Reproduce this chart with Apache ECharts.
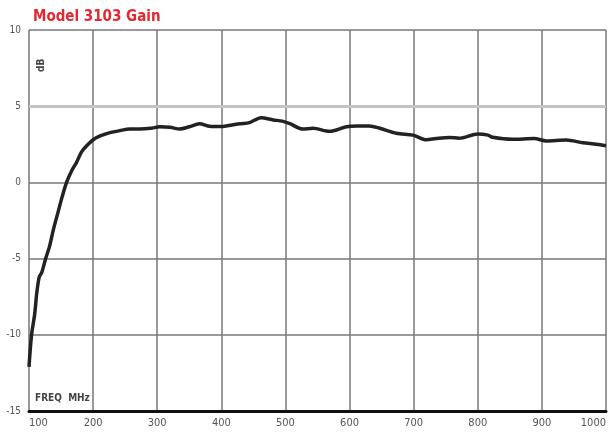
<!DOCTYPE html>
<html>
<head>
<meta charset="utf-8">
<script src="https://cdn.jsdelivr.net/npm/echarts@6/dist/echarts.min.js"></script>
<style>html,body{margin:0;padding:0;background:#fff}#c{width:611px;height:435px}</style>
</head>
<body>
<div id="c"></div>
<script>
const titleText = "Model 3103 Gain";
const xAxisName = "FREQ  MHz";
const yAxisName = "dB";
const freqMHz = [100,104,109,112,116,120,126,132,138,145,152,159,167,174,182,190,200,211,225,242,257,273,290,304,320,335,350,366,382,398,414,429,444,462,481,495,507,527,543,569,595,612,631,647,673,699,720,735,756,771,800,816,823,854,888,907,938,964,985,1000];
const gainDb = [-12.1,-10.0,-8.6,-7.3,-6.2,-5.9,-5.0,-4.2,-3.1,-2.0,-0.9,0.05,0.8,1.3,2.0,2.4,2.8,3.05,3.25,3.4,3.5,3.5,3.55,3.65,3.62,3.5,3.65,3.85,3.68,3.66,3.75,3.85,3.92,4.25,4.1,4.02,3.85,3.5,3.55,3.35,3.65,3.7,3.7,3.55,3.22,3.1,2.8,2.88,2.95,2.9,3.18,3.1,2.96,2.83,2.88,2.72,2.78,2.6,2.5,2.4];
const highlightLevel = [5];

const chart = echarts.init(document.getElementById('c'), null, {renderer:'canvas'});
const narrow = "'Liberation Sans Narrow','Arial Narrow','DejaVu Sans Condensed',sans-serif";
chart.setOption({
  animation:false,
  backgroundColor:'#fff',
  title:{text:titleText,left:28,top:5,textStyle:{color:'#e3262f',fontSize:15,fontWeight:'bold',fontFamily:narrow}},
  grid:{left:29,right:5,top:30,bottom:24,containLabel:false},
  xAxis:{type:'value',min:100,max:1000,interval:100,
    axisLine:{show:true,onZero:false,lineStyle:{color:'#111',width:3}},
    axisTick:{show:false},
    axisLabel:{color:'#555',fontSize:11,fontFamily:narrow,margin:7,alignMinLabel:'left',alignMaxLabel:'right',formatter:v=>String(v)},
    splitLine:{show:true,lineStyle:{color:'#777',width:1.5}}},
  yAxis:{type:'value',min:-15,max:10,interval:5,
    axisLine:{show:false},axisTick:{show:false},
    axisLabel:{color:'#555',fontSize:10,fontFamily:narrow,margin:8,formatter:v=>String(v)},
    splitLine:{show:true,lineStyle:{color:'#777',width:1.5}}},
  graphic:[
    {type:'text',left:35,top:393,style:{text:xAxisName,fill:'#444',font:"bold 10px "+narrow}},
    {type:'text',x:36,y:72,rotation:Math.PI/2,style:{text:yAxisName,fill:'#444',font:"bold 10px "+narrow}}
  ],
  series:[{type:'line',data:freqMHz.map((f,i)=>[f,gainDb[i]]),smooth:0.3,showSymbol:false,
    lineStyle:{color:'#222',width:3.5},
    markLine:{silent:true,symbol:'none',label:{show:false},lineStyle:{color:'#c4c4c4',width:3,type:'solid'},
      data:highlightLevel.map(v=>({yAxis:v}))},
    z:5}]
});
</script>
</body>
</html>
